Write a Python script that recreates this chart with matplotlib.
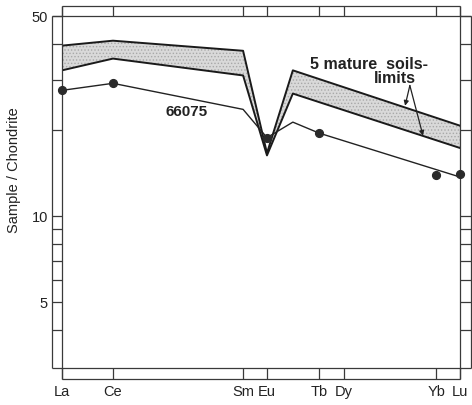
import matplotlib
matplotlib.use('Agg')
import matplotlib.pyplot as plt
from matplotlib.ticker import FixedLocator, FixedFormatter, NullLocator

plt.rcParams['font.family'] = ['Liberation Sans', 'DejaVu Sans']
plt.rcParams['hatch.linewidth'] = 0.6

# REE pattern: sample 66075 against the range of 5 mature soils
elements = ['La', 'Ce', 'Sm', 'Eu', 'Gd', 'Tb', 'Dy', 'Yb', 'Lu']
elem_x = [0, 12.8, 45.5, 51.5, 58.0, 64.6, 70.9, 94.0, 100]
tick_elements = ['La', 'Ce', 'Sm', 'Eu', 'Tb', 'Dy', 'Yb', 'Lu']

band_elements = ['La', 'Ce', 'Sm', 'Eu', 'Gd', 'Lu']
band_upper = [39.4, 41.0, 37.8, 16.6, 32.3, 20.7]
band_lower = [32.3, 35.5, 31.0, 16.3, 26.8, 17.3]

s66075_elements = ['La', 'Ce', 'Sm', 'Eu', 'Gd', 'Tb', 'Lu']
s66075_line = [27.5, 29.1, 23.6, 18.8, 21.3, 19.5, 13.7]
dot_elements = ['La', 'Ce', 'Eu', 'Tb', 'Yb', 'Lu']
dot_values = [27.5, 29.1, 18.8, 19.5, 13.9, 14.0]

y_ticks = [4, 5, 6, 7, 8, 9, 10, 20, 30, 40, 50]
y_shown = [5, 10, 50]

pos = dict(zip(elements, elem_x))
ink = '#222222'
frame_col = '#3a3a3a'

fig = plt.figure(figsize=(4.72, 4.05), dpi=100)
ax = fig.add_axes([62/472, 37/405, 398/472, 352/405])
ax.set_yscale('log')
ax.set_xlim(0, 100)
ax.set_ylim(2.95, 50)

# band of the mature soils
bx = [pos[e] for e in band_elements]
ax.fill_between(bx, band_lower, band_upper, facecolor='#d9d9d9',
                edgecolor='#a8a8a8', linewidth=0, hatch='.....')
ax.plot(bx, band_upper, color='#1a1a1a', lw=1.4)
ax.plot(bx, band_lower, color='#1a1a1a', lw=1.4)

# sample 66075
ax.plot([pos[e] for e in s66075_elements], s66075_line, color=ink, lw=1.0)
ax.plot([pos[e] for e in dot_elements], dot_values, 'o', ms=5.6,
        color='#2a2a2a', clip_on=False, zorder=5)

# ticks as cross bars in a double-line frame
strip = 10.5  # px
ax.tick_params(which='major', direction='out', length=strip*0.72, width=0.9,
               color=frame_col, top=True, right=True,
               labeltop=False, labelright=False, labelsize=10.5, labelcolor=ink)
ax.tick_params(axis='x', pad=5)
ax.tick_params(axis='y', pad=2.5)
ax.xaxis.set_major_locator(FixedLocator([pos[e] for e in tick_elements]))
ax.xaxis.set_major_formatter(FixedFormatter(tick_elements))
ax.yaxis.set_major_locator(FixedLocator(y_ticks))
ax.yaxis.set_major_formatter(FixedFormatter([str(v) if v in y_shown else '' for v in y_ticks]))
ax.yaxis.set_minor_locator(NullLocator())
for sp in ax.spines.values():
    sp.set_color(frame_col)
    sp.set_linewidth(0.9)
# Lu label sits a little right of its tick in the original
ax.get_xticklabels()[-1].set_x(pos['Lu'] + 1.2)

dx = strip / 398
dy = strip / 352
def frame_line(xs, ys):
    ax.plot(xs, ys, transform=ax.transAxes, color=frame_col, lw=0.9,
            clip_on=False, solid_capstyle='butt')

frame_line([-dx, -dx], [0, 1])
frame_line([1+dx, 1+dx], [0, 1])
frame_line([0, 1], [-dy, -dy])
frame_line([0, 1], [1+dy, 1+dy])
frame_line([-dx, 0], [0, 0])
frame_line([-dx, 0], [1, 1])
frame_line([1, 1+dx], [0, 0])
frame_line([1, 1+dx], [1, 1])
frame_line([0, 0], [-dy, 0])
frame_line([1, 1], [-dy, 0])
frame_line([0, 0], [1, 1+dy])
frame_line([1, 1], [1, 1+dy])

# labels
ax.text(31.2, 23.2, '66075', ha='center', va='center', fontsize=11,
        fontweight='bold', color=ink)
ax.text(77.1, 33.9, '5 mature  soils-', ha='center', va='center',
        fontsize=11.5, fontweight='bold', color=ink)
ax.text(83.7, 30.3, 'limits', ha='center', va='center',
        fontsize=11.5, fontweight='bold', color=ink)
for tip in [(86.2, 24.3), (90.7, 19.1)]:
    ax.annotate('', xy=tip, xytext=(87.4, 28.6),
                arrowprops=dict(arrowstyle='-|>', lw=0.9, color=ink,
                                mutation_scale=7, shrinkA=0, shrinkB=0))

fig.text(14/472, 1-170/405, 'Sample / Chondrite', rotation=90,
         ha='center', va='center', fontsize=10.5, color=ink)

plt.savefig('out.png', dpi=100)
plt.close()
